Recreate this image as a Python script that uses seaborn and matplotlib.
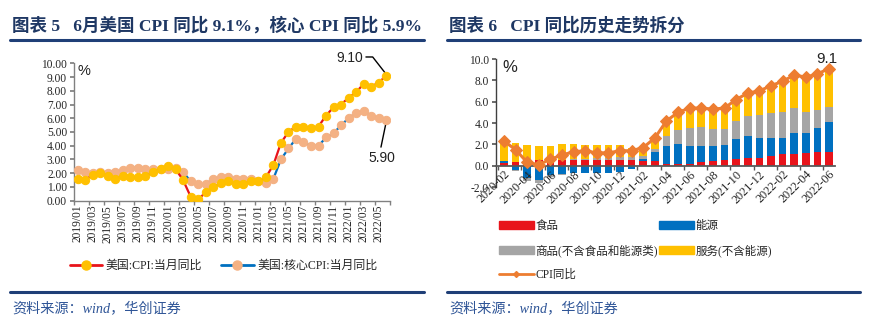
import numpy as np
import pandas as pd
import matplotlib
matplotlib.use('Agg')
import matplotlib.pyplot as plt
import seaborn as sns
from matplotlib.lines import Line2D
from matplotlib.patches import Patch

# ---------------- data ----------------
us_months = [f"{y}/{m:02d}" for y in (2019, 2020, 2021, 2022) for m in range(1, 13)][:42]
us_tick_labels = us_months[::2]
us_cpi = [1.6, 1.5, 1.9, 2.0, 1.8, 1.6, 1.8, 1.7, 1.7, 1.8, 2.1, 2.3,
          2.5, 2.3, 1.5, 0.3, 0.1, 0.6, 1.0, 1.3, 1.4, 1.2, 1.2, 1.4,
          1.4, 1.7, 2.6, 4.2, 5.0, 5.4, 5.4, 5.3, 5.4, 6.2, 6.8, 7.0,
          7.5, 7.9, 8.5, 8.3, 8.6, 9.1]
us_core = [2.2, 2.1, 2.0, 2.1, 2.0, 2.1, 2.2, 2.4, 2.4, 2.3, 2.3, 2.3,
           2.3, 2.4, 2.1, 1.4, 1.2, 1.2, 1.6, 1.7, 1.7, 1.6, 1.6, 1.6,
           1.4, 1.3, 1.6, 3.0, 3.8, 4.5, 4.3, 4.0, 4.0, 4.6, 4.9, 5.5,
           6.0, 6.4, 6.5, 6.2, 6.0, 5.9]
label_cpi = "美国:CPI:当月同比"
label_core = "美国:核心CPI:当月同比"

dc_months = [f"{y}-{m:02d}" for y in (2020, 2021, 2022) for m in range(1, 13)][1:30]
dc_tick_labels = dc_months[::2]
dc_cpi = [2.3, 1.5, 0.3, 0.1, 0.6, 1.0, 1.3, 1.4, 1.2, 1.2, 1.4, 1.4, 1.7, 2.6, 4.2,
          5.0, 5.4, 5.4, 5.3, 5.4, 6.2, 6.8, 7.0, 7.5, 7.9, 8.5, 8.3, 8.6, 9.1]
food = [0.25, 0.3, 0.45, 0.55, 0.6, 0.55, 0.55, 0.55, 0.55, 0.5, 0.55, 0.5, 0.45, 0.4, 0.2,
        0.15, 0.2, 0.3, 0.4, 0.5, 0.63, 0.72, 0.75, 0.9, 1.05, 1.1, 1.15, 1.3, 1.3]
energy = [0.15, -0.4, -1.2, -1.3, -0.85, -0.75, -0.65, -0.65, -0.7, -0.7, -0.55, -0.3, 0.2, 0.9, 1.65,
          1.9, 1.6, 1.55, 1.4, 1.45, 1.85, 2.05, 1.85, 1.7, 1.55, 2.0, 1.9, 2.2, 2.8]
goods = [0.05, -0.1, -0.25, -0.35, -0.25, -0.1, 0.05, 0.1, 0.15, 0.2, 0.25, 0.3, 0.25, 0.25, 0.9,
         1.3, 1.75, 1.75, 1.6, 1.45, 1.7, 1.9, 2.15, 2.3, 2.45, 2.35, 2.0, 1.7, 1.4]
services = [1.85, 1.8, 1.45, 1.25, 1.2, 1.45, 1.4, 1.3, 1.2, 1.2, 1.1, 0.9, 0.85, 1.0, 1.4,
            1.55, 1.7, 1.65, 1.75, 1.85, 1.95, 2.15, 2.3, 2.7, 2.85, 3.1, 3.15, 3.3, 3.6]
comp_names = ["食品", "能源", "商品(不含食品和能源类)", "服务(不含能源)"]
line_name = "CPI同比"

# ---------------- style ----------------
sns.set_theme(style='white')
FAM = ['Liberation Serif', 'Noto Sans CJK SC', 'DejaVu Sans']
plt.rcParams['font.family'] = FAM
plt.rcParams['axes.unicode_minus'] = False

NAVY = '#1F3864'
LINE_NAVY = '#1F3F77'
SRC_BLUE = '#2F5597'
W, H = 874, 326

fig = plt.figure(figsize=(W / 100, H / 100), dpi=100)


def fx(px):
    return px / W


def fy(py):
    return 1 - py / H


# headers / footers
for x0, x1, title in [(10, 424, "图表 5   6月美国 CPI 同比 9.1%，核心 CPI 同比 5.9%"),
                      (447, 860, "图表 6   CPI 同比历史走势拆分")]:
    fig.text(fx(x0 + 2), fy(26), title, fontsize=12.6, fontweight='bold', color=NAVY,
             va='center', ha='left', family=FAM)
    fig.add_artist(Line2D([fx(x0), fx(x1)], [fy(40), fy(40)], transform=fig.transFigure,
                          color=LINE_NAVY, lw=2.2))
    fig.add_artist(Line2D([fx(x0), fx(x1)], [fy(292), fy(292)], transform=fig.transFigure,
                          color=LINE_NAVY, lw=2.2))
    fig.text(fx(x0 + 2), fy(309), "资料来源：wind，华创证券", fontsize=10.2, color=SRC_BLUE,
             style='italic', va='center', ha='left', family=FAM)

# ---------------- left chart ----------------
ax1 = fig.add_axes([fx(74), fy(200.7), fx(316), (200.7 - 63.3) / H])
df1 = pd.DataFrame({'idx': np.arange(len(us_months)), 'cpi': us_cpi, 'core': us_core})
sns.lineplot(data=df1, x='idx', y='core', ax=ax1, color='#0070C0', lw=1.6, marker='o',
             markersize=6.0, markerfacecolor='#F4B183', markeredgecolor='#F4B183', zorder=3)
sns.lineplot(data=df1, x='idx', y='cpi', ax=ax1, color='#E8141B', lw=1.6, marker='o',
             markersize=6.0, markerfacecolor='#FFC000', markeredgecolor='#FFC000', zorder=4)
ax1.set_xlim(-0.5, len(us_months) - 0.5)
ax1.set_ylim(0, 10)
ax1.set_xlabel('')
ax1.set_ylabel('')
for s in ('top', 'right'):
    ax1.spines[s].set_visible(False)
for s in ('left', 'bottom'):
    ax1.spines[s].set_color('#808080')
    ax1.spines[s].set_linewidth(1.0)
ax1.set_yticks(np.arange(0, 11, 1))
ax1.set_yticklabels([f"{v:.2f}" for v in range(0, 11)], fontsize=8.3)
ax1.set_xticks(np.arange(0, len(us_months), 2))
ax1.set_xticklabels(us_tick_labels, rotation=90, fontsize=8.3)
ax1.set_xticks(np.arange(-0.5, len(us_months), 2), minor=True)
ax1.tick_params(axis='x', which='major', length=0, pad=3)
ax1.tick_params(axis='x', which='minor', length=3, color='#808080', direction='out', bottom=True)
ax1.tick_params(axis='y', length=3, color='#808080', direction='out', left=True, pad=2)
ax1.text(0.012, 0.995, '%', transform=ax1.transAxes, fontsize=10.5, va='top', ha='left',
         family='Liberation Sans', color='#222222')
n1 = len(us_months) - 1
ax1.text(34.4, 10.39, f"{us_cpi[-1]:.2f}", fontsize=10, va='center', ha='left',
         family='Liberation Sans', color='#222222', clip_on=False)
ax1.plot([38.3, 39.2, n1], [10.46, 10.46, us_cpi[-1] + 0.1], color='black', lw=1.0, clip_on=False)
ax1.text(38.6, 3.1, f"{us_core[-1]:.2f}", fontsize=10, va='center', ha='left',
         family='Liberation Sans', color='#222222', clip_on=False)
ax1.plot([40.3, n1], [3.9, us_core[-1] - 0.15], color='black', lw=1.0, clip_on=False)

h1 = [Line2D([], [], color='#E8141B', lw=2, marker='o', markersize=6.5,
             markerfacecolor='#FFC000', markeredgecolor='#FFC000'),
      Line2D([], [], color='#0070C0', lw=2, marker='o', markersize=6.5,
             markerfacecolor='#F4B183', markeredgecolor='#F4B183')]
fig.legend(h1, [label_cpi, label_core], loc='center left', bbox_to_anchor=(fx(70), fy(266)),
           ncol=2, frameon=False, fontsize=8.6, handlelength=2.7, handletextpad=0.3,
           columnspacing=1.6, borderpad=0, borderaxespad=0)

# ---------------- right chart ----------------
ax2 = fig.add_axes([fx(496), fy(187), fx(339), 128 / H])
for s in ('top', 'right'):
    ax2.spines[s].set_visible(False)
ax2.spines['bottom'].set_position(('data', 0))
ax2.spines['bottom'].set_color('#595959')
ax2.spines['bottom'].set_linewidth(1.3)
ax2.spines['bottom'].set_zorder(3)
ax2.spines['left'].set_color('#404040')
ax2.spines['left'].set_linewidth(1.0)

colors = ['#E8141B', '#0070C0', '#A5A5A5', '#FFC000']
x2 = np.arange(len(dc_months))
pos_bottom = np.zeros(len(x2))
neg_bottom = np.zeros(len(x2))
for vals, c in zip([food, energy, goods, services], colors):
    v = np.array(vals)
    bottoms = np.where(v >= 0, pos_bottom, neg_bottom)
    ax2.bar(x2, v, bottom=bottoms, width=0.66, color=c, linewidth=0, zorder=2)
    pos_bottom = pos_bottom + np.where(v >= 0, v, 0)
    neg_bottom = neg_bottom + np.where(v < 0, v, 0)
df2 = pd.DataFrame({'idx': x2, 'cpi': dc_cpi})
sns.lineplot(data=df2, x='idx', y='cpi', ax=ax2, color='#ED7D31', lw=2.2, marker='D',
             markersize=6, markerfacecolor='#ED7D31', markeredgecolor='#ED7D31', zorder=4)
ax2.set_xlim(-0.69, 28.52)
ax2.set_ylim(-2, 10)
ax2.set_xlabel('')
ax2.set_ylabel('')
ax2.set_yticks(np.arange(-2, 11, 2))
ax2.set_yticklabels([f"{v:.1f}" for v in range(-2, 11, 2)], fontsize=8.3)
ax2.set_xticks(x2[::2])
ax2.set_xticklabels(dc_tick_labels, rotation=45, ha='right', rotation_mode='anchor', fontsize=8.8)
ax2.set_xticks(np.arange(-0.5, len(x2), 2), minor=True)
ax2.tick_params(axis='x', which='major', length=0, pad=2)
ax2.tick_params(axis='x', which='minor', length=3, color='#595959', direction='out', bottom=True)
ax2.tick_params(axis='y', length=3, color='#595959', direction='out', left=True, pad=2)
ax2.xaxis.set_zorder(5)
ax2.text(0.018, 0.99, '%', transform=ax2.transAxes, fontsize=12, va='top', ha='left',
         family='Liberation Sans', color='#222222')
ax2.text(x2[-1] - 0.2, dc_cpi[-1] + 0.9, f"{dc_cpi[-1]:.1f}", fontsize=11, va='center', ha='center',
         family='Liberation Sans', color='#222222', clip_on=False)

h2 = [Patch(color=colors[0]), Patch(color=colors[2]),
      Line2D([], [], color='#ED7D31', lw=2, marker='D', markersize=3),
      Patch(color=colors[1]), Patch(color=colors[3])]
l2 = [comp_names[0], comp_names[2], line_name, comp_names[1], comp_names[3]]
fig.legend(h2, l2, loc='upper left', bbox_to_anchor=(fx(499), fy(220)), ncol=2, frameon=False,
           fontsize=8.3, handlelength=3.0, handleheight=0.65, handletextpad=0.15,
           columnspacing=0.1, labelspacing=1.05, borderpad=0, borderaxespad=0)

fig.savefig('out.png', dpi=100)
